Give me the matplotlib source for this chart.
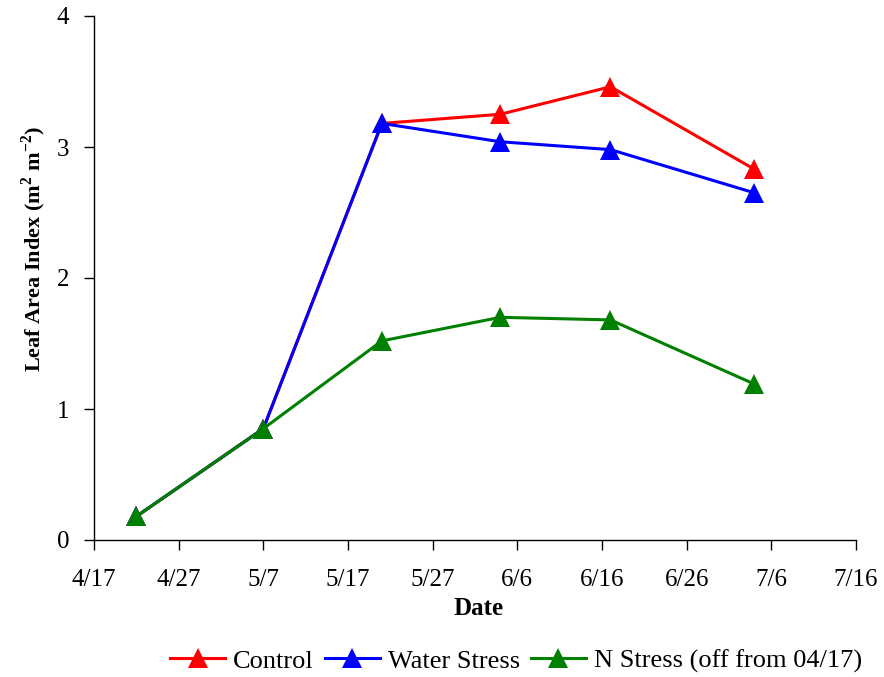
import datetime as dt

import matplotlib
matplotlib.use('Agg')
import matplotlib.pyplot as plt

plt.rcParams['font.family'] = ['Liberation Serif', 'DejaVu Serif']
plt.rcParams['mathtext.fontset'] = 'custom'
plt.rcParams['mathtext.rm'] = 'Liberation Serif:bold'
plt.rcParams['mathtext.bf'] = 'Liberation Serif:bold'

# 数据
dates = ['2008-04-22', '2008-05-07', '2008-05-21', '2008-06-04', '2008-06-17', '2008-07-04']
control = [0.18, 0.85, 3.18, 3.25, 3.46, 2.83]
water_stress = [0.18, 0.85, 3.18, 3.04, 2.98, 2.65]
n_stress = [0.18, 0.85, 1.52, 1.70, 1.68, 1.19]
tick_dates = ['2008-04-17', '2008-04-27', '2008-05-07', '2008-05-17', '2008-05-27',
              '2008-06-06', '2008-06-16', '2008-06-26', '2008-07-06', '2008-07-16']

x = [dt.datetime.strptime(d, '%Y-%m-%d') for d in dates]
ticks = [dt.datetime.strptime(d, '%Y-%m-%d') for d in tick_dates]

fig = plt.figure(figsize=(8.84, 6.77), dpi=100)
ax = fig.add_axes([94 / 884, 1 - 540 / 677, (856 - 94) / 884, (540 - 16) / 677])

style = dict(marker='^', markersize=15, linewidth=2.2, markeredgewidth=0)
ax.plot(x, control, color='#ff0000', label='Control', **style)
ax.plot(x, water_stress, color='#0000ff', label='Water Stress', **style)
ax.plot(x, n_stress, color='#008000', label='N Stress (off from 04/17)', **style)

ax.set_xlim(ticks[0], ticks[-1])
ax.set_ylim(0, 4)
ax.set_xticks(ticks)
ax.set_xticklabels([f'{t.month}/{t.day}' for t in ticks])
ax.set_yticks([0, 1, 2, 3, 4])

ax.spines['top'].set_visible(False)
ax.spines['right'].set_visible(False)
for s in ['left', 'bottom']:
    ax.spines[s].set_linewidth(1.0)
ax.tick_params(axis='x', direction='out', length=7, width=1, labelsize=18, pad=14)
ax.tick_params(axis='y', direction='out', length=7, width=1, labelsize=18, pad=11)

ax.set_xlabel('Date', fontsize=18, fontweight='bold', va='top')
ax.xaxis.set_label_coords(0.505, -0.108)
ax.set_ylabel('Leaf Area Index (m$^{2}$ m$^{-2}$)', fontsize=16, fontweight='bold')
ax.yaxis.set_label_coords(-0.060, 0.555)

fig.legend(loc='center', bbox_to_anchor=(516 / 884, 1 - 661 / 677), ncol=3, frameon=False,
           fontsize=19, handlelength=2.1, columnspacing=0.4, handletextpad=0.3)

fig.savefig('out.png', dpi=100)
